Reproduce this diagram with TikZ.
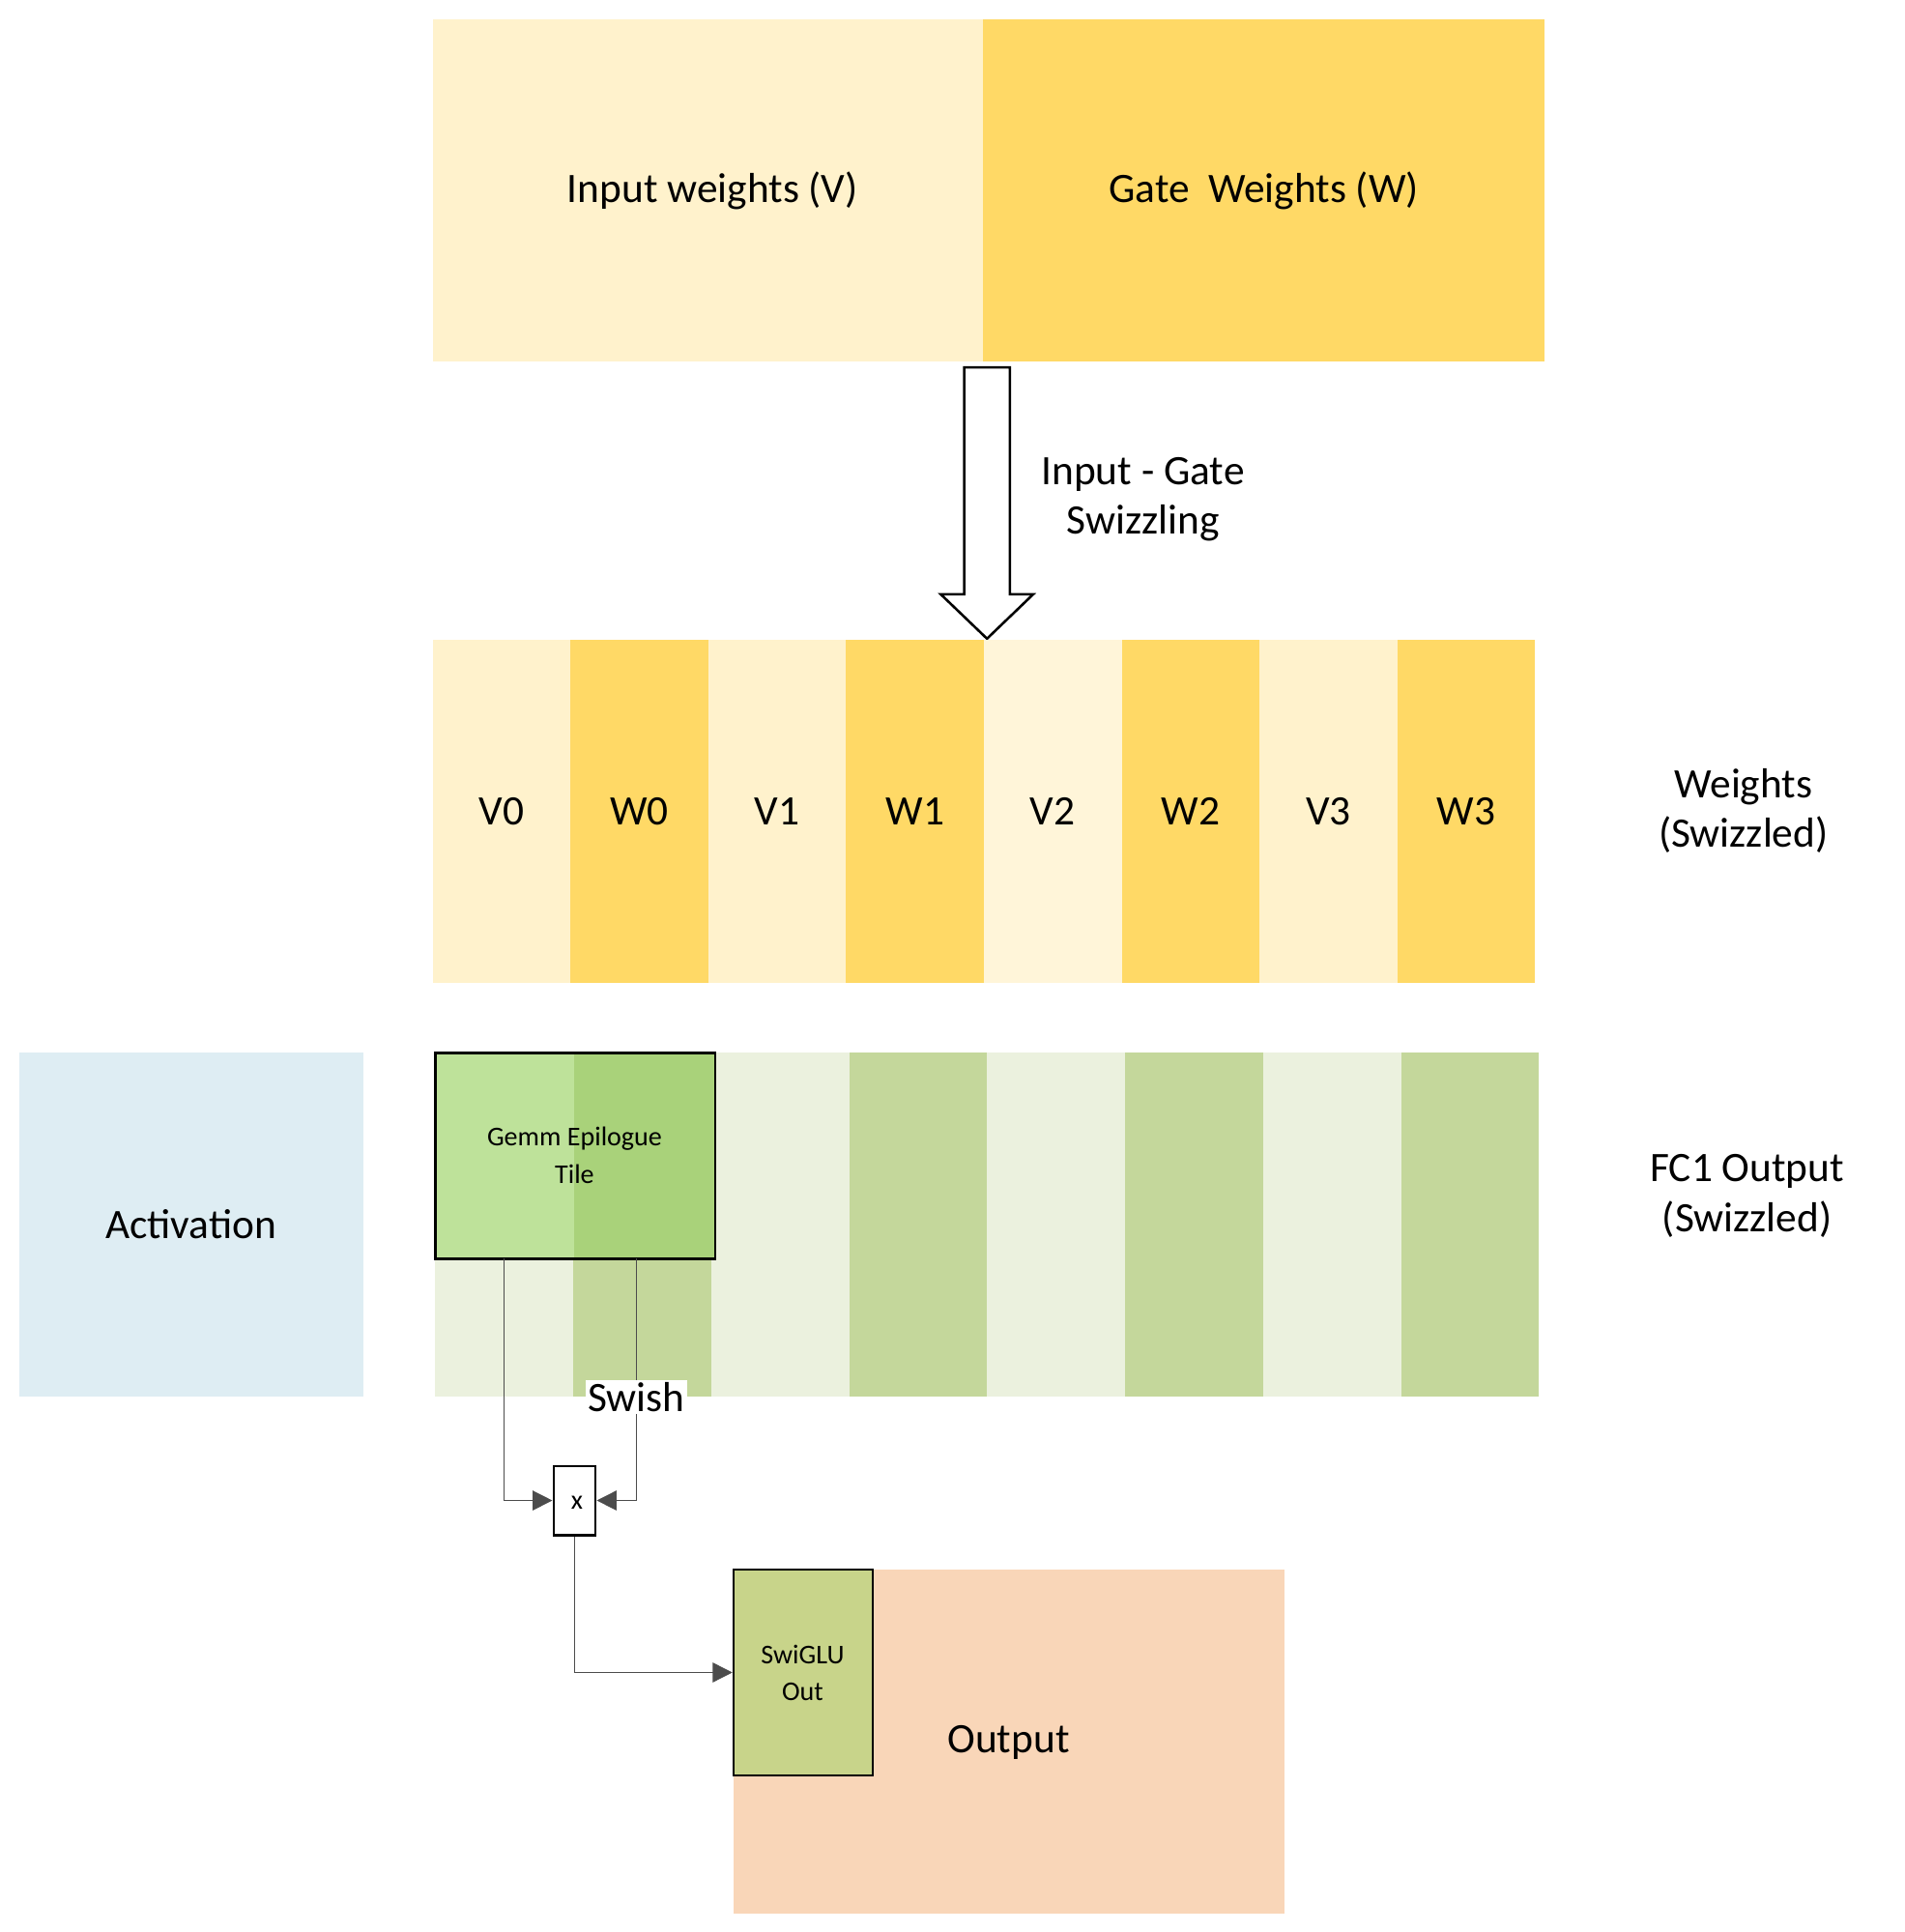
\documentclass[tikz,border=0pt]{standalone}
\usepackage{fontspec}
\setmainfont{Carlito}
\usetikzlibrary{arrows.meta}
\definecolor{vl}{HTML}{FFF2CC}
\definecolor{vl2}{HTML}{FFF5D9}
\definecolor{wg}{HTML}{FFD966}
\definecolor{gl}{HTML}{EBF1DE}
\definecolor{gd}{HTML}{C4D79B}
\definecolor{gt1}{HTML}{BEE29A}
\definecolor{gt2}{HTML}{A9D27A}
\definecolor{act}{HTML}{DEEDF3}
\definecolor{outc}{HTML}{F9D6B8}
\definecolor{swg}{HTML}{C8D48A}
\tikzset{
  x=1pt,y=-1pt,
  big/.style={font=\fontsize{34}{40}\selectfont, align=center},
  small/.style={font=\fontsize{22}{30}\selectfont, align=center},
  wire/.style={draw=black!70, line width=1pt},
  tip/.style={-{Triangle[length=16pt,width=16pt]}},
  blk/.style={draw=black, line width=2pt, inner sep=0pt},
}
\begin{document}
\begin{tikzpicture}
\useasboundingbox (0,0) rectangle (1545,1567);
% top
\fill[vl] (351,16) rectangle (797,293);
\fill[wg] (797,16) rectangle (1253,293);
\node[big] (tv) at (578,155) {Input weights (V)};
\node[big] (tw) at (1025,155) {Gate\ \ Weights (W)};
% block arrow
\draw[line width=2pt, fill=white] (782,298) -- (819,298) -- (819,482) -- (838,482) -- (800.5,518) -- (763,482) -- (782,482) -- cycle;
\node[big] (sw) at (927,405) {Input - Gate\\Swizzling};
% swizzled weights
\foreach \i/\c/\t in {0/vl/V0,1/wg/W0,2/vl/V1,3/wg/W1,4/vl2/V2,5/wg/W2,6/vl/V3,7/wg/W3}{
  \fill[\c] ({351+\i*111.75},519) rectangle ({351+(\i+1)*111.75},797);
  \node[big] (s\i) at ({351+(\i+0.5)*111.75},658) {\t};
}
\node[big] (wl) at (1414,658) {Weights\\(Swizzled)};
% activation
\fill[act] (16,854) rectangle (295,1133);
\node[big] (ac) at (155,993) {Activation};
% FC1
\foreach \i/\c in {0/gl,1/gd,2/gl,3/gd,4/gl,5/gd,6/gl,7/gd}{
  \fill[\c] ({353+\i*111.9},854) rectangle ({353+(\i+1)*111.9},1133);
}
\node[big] (fl) at (1417,970) {FC1 Output\\(Swizzled)};
\fill[gt1] (353,854) rectangle (466,1021);
\fill[gt2] (466,854) rectangle (580,1021);
\node[blk, minimum width=227pt, minimum height=167pt] (gemm) at (466.5,937.5) {};
\node[small] at (466,937) {Gemm Epilogue\\Tile};
% output
\fill[outc] (595,1273) rectangle (1042,1552);
\node[big] (out) at (818,1413) {Output};
\node[blk, fill=swg, minimum width=113pt, minimum height=167pt] (swi) at (651.5,1356.5) {};
\node[small] at (651,1357) {SwiGLU\\Out};
% multiply
\node[blk, fill=white, minimum width=34pt, minimum height=56pt] (mul) at (466,1217) {};
\node[small] at (468,1219) {x};
\coordinate (g1) at (409,1021);
\coordinate (g2) at (516,1021);
\draw[wire, tip] (g1) |- (mul.west);
\draw[wire, tip] (g2) |- (mul.east);
\node[big, fill=white, inner sep=2pt] (swl) at (516,1133) {Swish};
\draw[wire, tip] (mul.south) |- (swi.west);
\end{tikzpicture}
\end{document}
